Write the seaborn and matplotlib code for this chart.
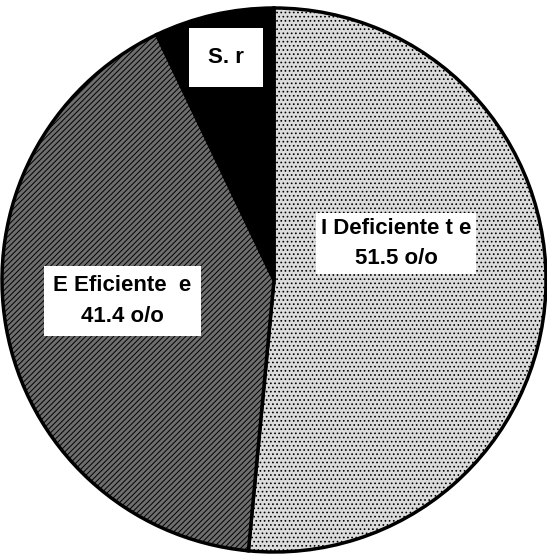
import matplotlib
matplotlib.use("Agg")
import matplotlib.pyplot as plt
import seaborn as sns

# data
categories = ["Deficiente", "Eficiente", "S.r"]
shares = [51.5, 41.4, 7.1]
label_texts = ["I Deficiente t e\n51.5 o/o", "E Eficiente  e\n41.4 o/o", "S. r"]
label_pos = [(0.449, 0.134), (-0.557, -0.077), (-0.176, 0.818)]
label_pads = [0.2, 0.4, 0.85]

sns.set_style("white")
plt.rcParams["hatch.linewidth"] = 0.7

colors = ["#dcdcdc", "#6e6e6e", "#000000"]
hatches = ["....", "//////", ""]

fig = plt.figure(figsize=(5.47, 5.59), dpi=100)
r_px = 272
cx, cy = 274, 280
ax = fig.add_axes([(cx - r_px) / 547, (559 - cy - r_px) / 559, 2 * r_px / 547, 2 * r_px / 559])

wedges, _ = ax.pie(shares, colors=colors, startangle=90, counterclock=False,
                   wedgeprops=dict(edgecolor="black", linewidth=2.5))
for w, h in zip(wedges, hatches):
    w.set_hatch(h)

ax.set_xlim(-1, 1)
ax.set_ylim(-1, 1)
ax.set_aspect("equal")
ax.axis("off")

for txt, (x, y), pad in zip(label_texts, label_pos, label_pads):
    ax.text(x, y, txt, ha="center", va="center", multialignment="center",
            fontsize=16, fontweight="bold", family="Liberation Sans", color="black",
            linespacing=1.6,
            bbox=dict(boxstyle=f"square,pad={pad}", facecolor="white", edgecolor="none"))

fig.savefig("out.png", dpi=100)
